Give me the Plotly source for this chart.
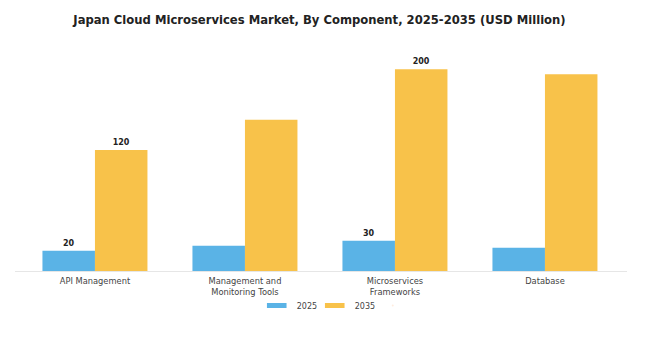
import plotly.graph_objects as go

categories = ["API Management", "Management and<br>Monitoring Tools", "Microservices<br>Frameworks", "Database"]
years = ["2025", "2035"]
values_2025 = [20, 25, 30, 23]
values_2035 = [120, 150, 200, 195]
labels_2025 = ["20", "", "30", ""]
labels_2035 = ["120", "", "200", ""]
colors = ["#5AB3E6", "#F8C24A"]

fig = go.Figure()
for name, vals, labs, col in [(years[0], values_2025, labels_2025, colors[0]),
                              (years[1], values_2035, labels_2035, colors[1])]:
    fig.add_trace(go.Bar(
        x=categories, y=vals, name=name, marker=dict(color=col, line=dict(width=0)),
        text=labs, textposition="outside", cliponaxis=False, showlegend=False,
        textfont=dict(family="DejaVu Sans", size=8, color="#222222", weight="bold"),
    ))
# legend-only entries drawn as thin wide swatches
for name, col in zip(years, colors):
    fig.add_trace(go.Scatter(
        x=[None], y=[None], name=name, mode="markers",
        marker=dict(symbol="line-ew", size=14, line=dict(width=5, color=col)),
    ))
# invisible spacer entry so the last legend label is not clipped
fig.add_trace(go.Scatter(x=[None], y=[None], name=" ", mode="markers",
                         marker=dict(size=1, opacity=0), hoverinfo="skip"))

fig.update_layout(
    width=652, height=340,
    margin=dict(l=15, r=25, t=50, b=69, autoexpand=False),
    paper_bgcolor="white", plot_bgcolor="white",
    barmode="group", bargap=0.3, bargroupgap=0,
    title=dict(text="<b>Japan Cloud Microservices Market, By Component, 2025-2035 (USD Million)</b>",
               x=0.49, xanchor="center", y=0.94, yanchor="middle",
               font=dict(family="DejaVu Sans", size=11.6, color="#222222")),
    font=dict(family="DejaVu Sans", size=8, color="#444444"),
    legend=dict(orientation="h", x=0.395, xanchor="left", y=-0.09, yanchor="top",
                bgcolor="rgba(0,0,0,0)",
                font=dict(size=8, color="#444444"), entrywidth=13, entrywidthmode="pixels"),
    showlegend=True,
)
fig.update_xaxes(range=[-0.533, 3.547], showline=True, linecolor="#E6E6E6", linewidth=1,
                 ticks="", tickfont=dict(size=8.3, color="#444444"), showgrid=False,
                 ticklabelstandoff=2)
fig.update_yaxes(range=[0, 219], visible=False, showgrid=False)

fig.write_html("out.html")
